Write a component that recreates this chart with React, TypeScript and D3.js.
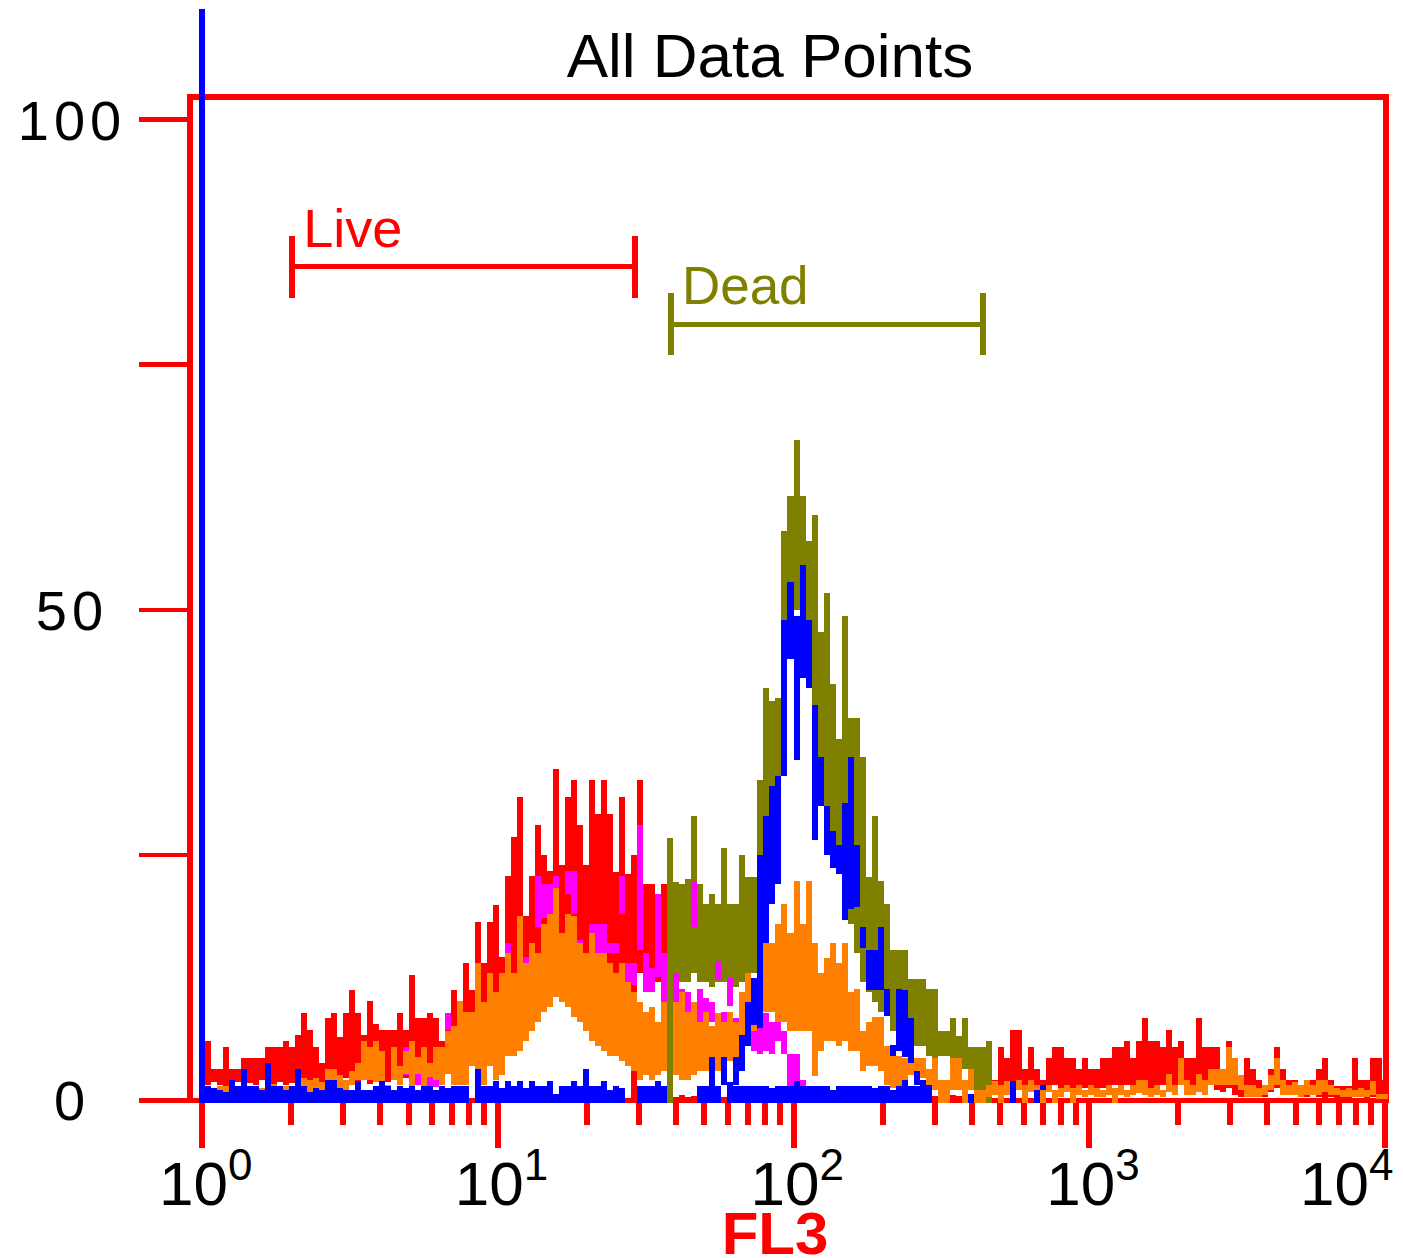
import React from 'react';
import * as d3 from 'd3';

// ---------- data (per display column, 198 columns over 4 decades) ----------
const N_COLS = 198;
const DECADES = 4;
const yTicks = [0, 25, 50, 75, 100];
const yTickLabels = [0, 50, 100];
const xDecades = [0, 1, 2, 3, 4];
const minorMult = [2, 3, 4, 5, 6, 7, 8, 9];
const gates = [
  { name: 'Live', min: 2.02, max: 29.1, level: 85.0, color: '#ff0000' },
  { name: 'Dead', min: 38.5, max: 437, level: 79.1, color: '#808000' },
];

const redStart = 0;
const redHi = [
  3.2, 6, 3.2, 3.2, 5.4, 3.2, 3.2, 4.3, 4.3, 4.3,
  4.3, 5.4, 5.4, 5.4, 6, 5.4, 6.6, 8.9, 7.1, 5.4,
  3.8, 8.4, 8.9, 6.4, 8.9, 11.2, 8.9, 6.6, 10.1, 7.8,
  7.1, 7.1, 7.1, 8.9, 7.1, 12.7, 8.4, 8.4, 8.9, 8.4,
  6, 8.4, 11.2, 9.5, 14, 11.2, 18.2, 14, 18.2, 19.9,
  14.6, 22.8, 26.8, 30.9, 18.8, 22.8, 28, 25, 23.4, 33.8,
  24, 30.9, 32.6, 28, 24, 32.6, 29.2, 32.6, 29.2, 23.3,
  30.9, 23, 25, 32.6, 22, 22, 21, 22, 0.4, 0.3,
  0.5, 0.3, 0.4, 0.2, 0.5, 0.3, 0.4, 0.3, 0.5, 0.2,
  0.4, 0.3, 0.5, 0.3, 0.2, 0.4, 0.3, 0.5, 0.3, 0.4,
  0.2, 0.3, 0.5, 0.4, 0.3, 0.2, 0.4, 0.3, 0.5, 0.3,
  0.4, 0.2, 0.3, 0.5, 0.3, 0.4, 0.3, 0.2, 0.4, 0.3,
  0.5, 0.3, 0.4, 0.2, 0.3, 0.5, 0.4, 0.3, 0.5, 1.5,
  2, 4.3, 2, 5.4, 4.3, 7.1, 7.1, 3.2, 5.4, 3.2,
  2, 4.3, 5.4, 5.4, 4.3, 4.3, 3.2, 4.3, 3.2, 3.2,
  4.3, 4.3, 5.4, 5.4, 6, 4.3, 6, 8.4, 6, 6,
  5.4, 7.1, 5.4, 6, 4.3, 4.3, 8.4, 5.4, 5.4, 5.4,
  3.2, 6, 2, 1.5, 4.3, 3.2, 2, 1.4, 3.2, 5.4,
  3.2, 2, 2, 1.4, 1.4, 2, 3.2, 4.3, 2, 1.4,
  1.4, 1.4, 4.3, 2, 2, 4.3, 4.3, 2,
];
const redLo = [
  0, 1.5, 1.8, 1.5, 1.3, 1.6, 1.8, 1.4, 1.7, 1.5,
  2.0, 1.6, 1.4, 1.8, 1.5, 1.7, 2.0, 1.5, 1.8, 1.4,
  1.6, 2.0, 1.7, 1.5, 2.2, 1.8, 1.5, 2.0, 1.6, 1.8,
  1.5, 1.8, 2.0, 1.6, 2.2, 1.8, 2.0, 1.5, 2.2, 1.8,
  2.5, 3.5, 3.0, 4.5, 3.8, 5.0, 4.2, 5.5, 4.8, 6.0,
  5.5, 8, 9, 10, 9.5, 11, 12, 10.5, 12, 13,
  11.5, 12.5, 13, 12, 14, 13, 12.5, 13.5, 12, 13,
  12, 11, 0, 13, 12.5, 13, 12, 12.5, 0, 0,
  0, 0, 0, 0, 0, 0, 0, 0, 0, 0,
  0, 0, 0, 0, 0, 0, 0, 0, 0, 0,
  0, 0, 0, 0, 0, 0, 0, 0, 0, 0,
  0, 0, 0, 0, 0, 0, 0, 0, 0, 0,
  0, 0, 0, 0, 0, 0, 0, 0, 0, 0,
  0.5, 0, 0.8, 1.2, 1.0, 1.5, 1.2, 0.8, 1.2, 1.0,
  0.5, 1.2, 1.5, 1.0, 1.3, 1.0, 0.8, 1.2, 1.0, 0.8,
  1.2, 1.0, 1.5, 1.2, 1.5, 1.0, 1.3, 1.5, 1.2, 1.0,
  1.5, 1.2, 1.0, 1.5, 1.2, 1.0, 1.5, 1.2, 1.5, 1.0,
  0.8, 1.2, 0.5, 0.3, 1.0, 0.8, 0.3, 0.3, 0.8, 1.2,
  1.0, 0.5, 0.5, 0.3, 0.3, 0.5, 0.3, 0.2, 0.3, 0.2,
  0.2, 0.2, 0.5, 0.3, 0.2, 0.3, 0.2, 0.2,
];

const oliveStart = 78;
const oliveHi = [
  26.7, 22.2, 22, 22.5, 29, 22, 20, 21, 20, 25.7,
  20, 20, 25, 22.7, 22.7, 32.6, 42, 40.7, 41, 58,
  61.6, 67.3, 61.6, 57, 59.7, 47.7, 51.7, 42.4, 36.8, 49.4,
  39, 39, 35, 22.7, 29, 22.3, 20, 15.3, 15.3, 15.3,
  12.3, 12.3, 12.3, 11.3, 11.3, 7, 7, 8.4, 6.5, 8.4,
  5.4, 5.4, 5.4, 6,
];
const oliveLo = [
  0, 12.5, 12, 12, 13, 12, 12, 11.5, 12, 12,
  11, 11.5, 12, 12.5, 13, 13, 22, 30, 30, 45,
  50, 50, 53, 45, 35, 33, 28, 27, 25, 20,
  18, 15, 12, 11, 10, 9, 9, 7, 7, 6,
  6, 5.5, 5.5, 4.5, 4.3, 4.5, 4.5, 4.3, 4.3, 3.2,
  1.5, 1.0, 0.5, 0,
];

const magentaStart = 34;
const magentaHi = [
  5.4, 5.0, 2.7, null, 3.8, 3.8, 5.4, 8.9, 5.4, null,
  null, 6.6, null, null, 8.0, 7.1, null, 16, 12.4, 18,
  14.6, 15, 22.8, 22, 22, 22.8, 16, 23.4, 23.4, 16.3,
  15, 18, 18, 18, 16, 16, 22.8, 14, 14, 28,
  15, 13.5, 21, 15, null, 13, 11.3, 11, 22.3, 11.3,
  10.4, 10, 14.2, 9, 12.4, 8.4, 8, 8, 7, 8.9,
  8.9, 8, 8.9, 7, 4.7, 4.7, 2,
];
const magentaLo = [
  2.6, 2.5, 1.5, null, 1.3, 1.3, 2.5, 7.1, 4.3, null,
  null, 6.0, null, null, 7.1, 6.0, null, 13.6, 10.7, 14.6,
  13, 13, 17.6, 18.6, 19, 21.6, 13.5, 21, 19, 12.4,
  10.7, 14, 14.3, 15, 15, 15, 19, 11.7, 11.7, 15.3,
  11, 11, 12.5, 10, null, 10, 9, 9, 17.6, 8,
  8, 8, 12.3, 8, 9.6, 6.4, 5.5, 5.5, 5, 4.7,
  5, 4.7, 6, 4.7, 1.1, 1.1, 0.4,
];

const orangeStart = 0;
const orangeHi = [
  0.8, 1.4, 0.9, 1.4, 1.4, 0.6, 0.8, 0.5, 1.0, 0.8,
  1.2, 2.2, 1.6, 1.2, 1.4, 1.0, 2.2, 2.2, 2.0, 2.2,
  1.8, 3.2, 3.2, 2.5, 2.0, 3.0, 3.8, 6.0, 5.4, 6.0,
  5.0, 1.5, 5.4, 3.5, 5.0, 6.0, 4.4, 5.4, 3.8, 5.4,
  5.4, 7.0, 7.5, 10.1, 9.0, 9.0, 14.0, 10.0, 13.0, 11.0,
  13.0, 15, 13, 18.8, 14, 16, 15, 18, 19, 21.6,
  17, 19, 18.8, 16, 15, 17, 15, 15, 14, 13,
  14, 12, 11, 10, 9, 9.5, 8, 10, null, 10,
  11, 9, 10, 8, 9, 7.5, 8.9, 8, 9, 8,
  11, 13, 12, 18, 17, 16, 18, 20, 17, 22.3,
  18, 22.3, 16, 13, 14.5, 16, 14, 16, 11, 11.3,
  7, 8, 8.5, 8.5, 5.5, 4.8, 4.5, 4.3, 4.3, 4.3,
  4.3, 3.2, 4.3, 2.0, 2.0, 4.3, 4.3, 2.0, 3.2, 1.0,
  1.0, 1.5, 1.9, 1.5, 1.9, 1.5, 2.0, 1.5, 2.0, 1.5,
  1.0, 1.5, 1.0, 1.2, 1.5, 1.2, 1.5, 1.0, 1.5, 1.2,
  1.0, 1.5, 1.2, 1.5, 1.0, 1.5, 2.0, 2.0, 1.2, 1.5,
  1.0, 2.7, 1.5, 4.3, 2.0, 1.5, 2.7, 2.0, 3.2, 3.2,
  3.2, 5.4, 4.3, 2.5, 1.5, 1.5, 1.2, 1.5, 2.5, 4.3,
  2.0, 1.5, 1.8, 1.5, 2.0, 1.5, 2.0, 2.0, 1.5, 1.2,
  1.0, 1.2, 1.0, 1.2, 1.0, 1.9, 0.6, 0.6,
];
const orangeLo = [
  0, 0.8, 0, 0.8, 0.8, 0, 0.3, 0, 0.3, 0,
  0.5, 1.2, 0.8, 0, 0.5, 0.3, 0.3, 0.5, 0.3, 0.5,
  0.2, 2.0, 2.0, 1.2, 1.0, 1.5, 2.0, 2.0, 2.0, 1.8,
  1.5, 0.5, 2.0, 1.5, 2.7, 1.4, 2.7, 1.0, 2.3, 2.0,
  1.5, 2.7, 1.5, 1.5, 1.5, 3.5, 2.0, 1.5, 3.5, 2.0,
  2.5, 4.5, 4.5, 5, 6, 7, 8, 9, 9.5, 10.5,
  10, 9.5, 8.5, 8, 7, 6, 5.5, 5, 4.5, 4.5,
  4, 3.5, 3, 2, 2.5, 2, 2.5, 3, null, 2.5,
  2, 2, 2.5, 3, 3, 3.5, 3, 3.5, 4, 3.5,
  6.5, 7, 7, 7.8, 9, 9, 8, 8, 7, 7,
  7, 7, 2.4, 5, 6, 6, 5.5, 6, 5, 5,
  3, 3.5, 3.5, 3, 1.5, 1.2, 1.2, 1, 2.5, 2.5,
  2.2, 0.3, 1.0, 0, 0, 1.0, 1.0, 0, 1.0, 0,
  0, 0.3, 0.5, 0, 0.5, 0.3, 1.0, 0, 0.8, 0.8,
  0, 0.8, 0, 0.3, 0.8, 0, 0.5, 0.3, 0.5, 0.3,
  0.3, 0.5, 0, 0.5, 0.3, 0.5, 0.7, 0.5, 0.3, 0.5,
  0.3, 0.8, 0.5, 1.5, 0.5, 0.5, 0.8, 0.5, 1.5, 1.5,
  1.5, 1.5, 1.5, 1.0, 0.3, 0.3, 0.3, 0.5, 1.0, 1.5,
  0.5, 0.5, 0.5, 0.3, 0.5, 0.5, 0.5, 0.8, 0.5, 0.5,
  0.3, 0.3, 0.3, 0.3, 0.3, 0.5, 0.2, 0.2,
];

const bluePeakStart = 89;
const bluePeakHi = [
  4.4, 6.6, 10, 12.4, 25, 29, 32, 33, 49, 52.8,
  49.4, 54.6, 49, 40.3, 35, 30, 27.4, 26, 30.3, 35,
  26, 17.6, 15.3, 15.3, 17.6, 11.3, 5.6, 11.3, 11.2, 8.4,
  3, 2, 1.5,
];
const bluePeakLo = [
  1.5, 3, 5.5, 7.7, 7.3, 16, 20, 22, 33, 45,
  34.7, 43, 42, 26.5, 30, 25, 23.7, 23, 18.4, 19.5,
  19.7, 15.5, 11.2, 11.2, 11.2, 8.6, 4.5, 5, 4.4, 3.8,
  1.5, 0.5, 0,
];

const blueBaseStart = 0;
const blueBaseHi = [
  111.3, 1.4, 1.2, 1.0, 0.8, 2.0, 1.4, 3.2, 1.4, 1.4,
  1.0, 3.8, 1.4, 1.4, 1.0, 1.4, 3.2, 1.4, 0.8, 1.2,
  1.0, 2.0, 2.0, 1.2, 1.0, 1.0, 1.9, 1.0, 1.0, 1.4,
  1.9, 1.4, 1.0, 1.4, 1.2, 1.4, 1.0, 1.4, 1.4, 1.0,
  1.4, 1.2, 1.4, 1.4, 1.4, null, 3.2, 1.4, 1.4, 1.9,
  1.2, 1.9, 1.4, 1.9, 1.2, 1.9, 1.4, 1.4, 1.9, 0.6,
  1.4, 1.4, 1.9, 1.4, 3.2, 1.4, 1.4, 1.9, 1.0, 1.4,
  1.2, null, null, 1.4, 1.4, 1.4, 1.9, 1.4, null, null,
  null, null, null, 1.4, 1.4, 4.4, 1.4, 4.4, 1.8, 1.4,
  1.4, 1.4, 1.4, 1.4, 1.4, 1.2, 1.4, 1.4, 1.4, 1.9,
  1.4, 1.4, 1.4, 1.4, 1.4, 1.0, 1.4, 1.4, 1.4, 1.4,
  1.4, 1.4, 1.2, 1.4, 1.4, 1.0, 1.4, 2.0, 1.4, 1.4,
  1.4, 1.4, null, null, null, null, null, null, 0.6, null,
  null, null, null, null, null, 1.9, null, null, null, 1.0,
  1.5, null,
];
const blueBaseLo = [
  0, 0, 0, 0, 0, 0, 0, 0, 0, 0,
  0, 0, 0, 0, 0, 0, 0, 0, 0, 0,
  0, 0, 0, 0, 0, 0, 0, 0, 0, 0,
  0, 0, 0, 0, 0, 0, 0, 0, 0, 0,
  0, 0, 0, 0, 0, null, 0, 0, 0, 0,
  0, 0, 0, 0, 0, 0, 0, 0, 0, 0,
  0, 0, 0, 0, 0, 0, 0, 0, 0, 0,
  0, null, null, 0, 0, 0, 0, 0, null, null,
  null, null, null, 0, 0, 0, 0, 1.5, 0, 0,
  0, 0, 0, 0, 0, 0, 0, 0, 0, 0,
  0, 0, 0, 0, 0, 0, 0, 0, 0, 0,
  0, 0, 0, 0, 0, 0, 0, 0, 0, 0,
  0, 0, null, null, null, null, null, null, 0, null,
  null, null, null, null, null, 0, null, null, null, 0,
  1.0, null,
];

// drawing order: back to front
const series = [
  { key: 'red', color: '#ff0000', start: redStart, hi: redHi, lo: redLo },
  { key: 'olive', color: '#808000', start: oliveStart, hi: oliveHi, lo: oliveLo },
  { key: 'magenta', color: '#ff00ff', start: magentaStart, hi: magentaHi, lo: magentaLo },
  { key: 'orange', color: '#ff8000', start: orangeStart, hi: orangeHi, lo: orangeLo },
  { key: 'bluePeak', color: '#0000ff', start: bluePeakStart, hi: bluePeakHi, lo: bluePeakLo },
  { key: 'blueBase', color: '#0000ff', start: blueBaseStart, hi: blueBaseHi, lo: blueBaseLo },
];

const FONT = '"Liberation Sans", Arial, sans-serif';

export default function App() {
  const W = 1403;
  const H = 1258;
  const x = d3.scaleLog().domain([1, 1e4]).range([202, 1385]);
  const y = d3.scaleLinear().domain([0, 100]).range([1100, 119.5]);
  const colVal = (i: number) => Math.pow(10, (i * DECADES) / (N_COLS - 1));

  const frameL = 187, frameR = 1389, frameT = 94;
  const base = y(0);

  const minorTicks: number[] = [];
  for (let d = 0; d < 4; d++) minorMult.forEach((m) => minorTicks.push(m * Math.pow(10, d)));

  const bands = series.map((s) => (
    <g key={s.key} fill={s.color}>
      {s.hi.map((h: number | null, k: number) => {
        if (h == null) return null;
        const i = s.start + k;
        const l = (s.lo[k] ?? 0) as number;
        const x0 = x(colVal(i - 0.5));
        const x1 = x(colVal(i + 0.5));
        const top = y(h);
        let bot = l <= 0 ? base + 2.5 : y(l);
        if (bot - top < 5) bot = top + 5;
        return <rect key={k} x={x0} y={top} width={x1 - x0} height={bot - top} />;
      })}
    </g>
  ));

  return (
    <svg
      width={W}
      height={H}
      style={{ position: 'absolute', left: 0, top: 0, background: '#fff' }}
      shapeRendering="crispEdges"
    >
      <rect x={0} y={0} width={W} height={H} fill="#fff" />
      {/* title */}
      <text x={770} y={77} textAnchor="middle" fontFamily={FONT} fontSize={62} fill="#000">
        All Data Points
      </text>

      {/* frame */}
      <rect x={frameL} y={frameT} width={6} height={base + 3 - frameT} fill="#ff0000" />
      <rect x={frameR - 6} y={frameT} width={6} height={base + 3 - frameT} fill="#ff0000" />
      <rect x={frameL} y={frameT} width={frameR - frameL} height={5.5} fill="#ff0000" />
      <rect x={139} y={base - 2.5} width={frameR - 139} height={5} fill="#ff0000" />

      {/* y ticks */}
      {yTicks.map((t) => (
        <rect key={t} x={139} y={y(t) - 2.2} width={frameL - 139} height={4.4} fill="#ff0000" />
      ))}
      {yTickLabels.map((t) => (
        <text
          key={t}
          x={72}
          y={y(t) + 20}
          textAnchor="middle"
          fontFamily={FONT}
          fontSize={56}
          letterSpacing={5}
          fill="#000"
        >
          {t}
        </text>
      ))}

      {/* x ticks */}
      {xDecades.map((d) => (
        <rect key={'M' + d} x={x(Math.pow(10, d)) - 3} y={base} width={6} height={48} fill="#ff0000" />
      ))}
      {minorTicks.map((v) => (
        <rect key={'m' + v} x={x(v) - 3} y={base} width={6} height={25} fill="#ff0000" />
      ))}
      {xDecades.map((d) => {
        const px = x(Math.pow(10, d));
        const sx = Math.min(px - 43, 1300);
        return (
          <text key={'l' + d} x={sx} y={1205} fontFamily={FONT} fontSize={62} fill="#000">
            10
            <tspan dy={-25} fontSize={44}>
              {d}
            </tspan>
          </text>
        );
      })}
      <text
        x={775}
        y={1254}
        textAnchor="middle"
        fontFamily={FONT}
        fontWeight="bold"
        fontSize={60}
        fill="#ff0000"
      >
        FL3
      </text>

      {/* histograms */}
      {bands}

      {/* gates */}
      {gates.map((g) => {
        const gy = y(g.level);
        const x0 = x(g.min);
        const x1 = x(g.max);
        return (
          <g key={g.name} fill={g.color}>
            <rect x={x0 - 3} y={gy - 2.7} width={x1 - x0 + 6} height={5.4} />
            <rect x={x0 - 3} y={gy - 31} width={6} height={62} />
            <rect x={x1 - 3} y={gy - 31} width={6} height={62} />
            <text
              x={x0 + 11}
              y={gy - 20}
              fontFamily={FONT}
              fontSize={g.name === 'Live' ? 54 : 53}
              fill={g.color}
            >
              {g.name}
            </text>
          </g>
        );
      })}
    </svg>
  );
}
